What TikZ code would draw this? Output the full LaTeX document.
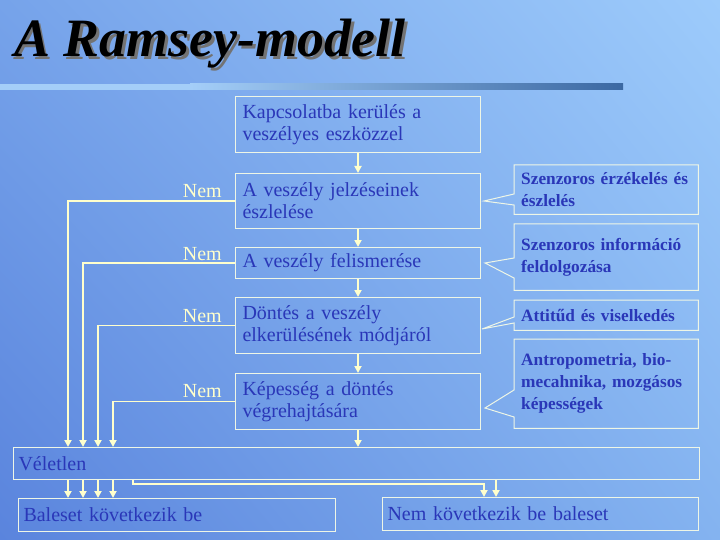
\documentclass[tikz,border=0pt]{standalone}
\usepackage{fontspec}
\setmainfont{Liberation Serif}
\usepackage{xcolor}
\usetikzlibrary{arrows.meta, calc, shadings}
\definecolor{bgdark}{HTML}{5A84DD}
\definecolor{bglight}{HTML}{9DCBFB}
\definecolor{bgtl}{HTML}{76A3EA}
\definecolor{bgbr}{HTML}{84B3F0}
\definecolor{barlight}{HTML}{A4CEF8}
\definecolor{bardark}{HTML}{3B68A2}
\definecolor{boxtext}{HTML}{2A37B8}
\definecolor{wire}{HTML}{FFFFCC}
\definecolor{frame}{HTML}{EEF6E6}

\newcommand{\shadowtitle}[1]{\rlap{\hspace{2.5pt}\raisebox{-2.5pt}{\textcolor{black!55}{#1}}}#1}

\tikzset{
  stage/.style={draw=frame, line width=1pt, anchor=north west, align=left,
    text width=231pt, inner xsep=7pt, inner ysep=2pt, text=boxtext,
    font=\fontsize{20}{22}\selectfont},
  factor/.style={anchor=north west, align=left, text width=170pt,
    inner xsep=7pt, inner ysep=2pt, text=boxtext,
    font=\fontsize{17.3}{22}\selectfont\bfseries},
  outcome/.style={draw=frame, line width=1pt, anchor=north west, align=left,
    inner xsep=5pt, inner ysep=2pt, text=boxtext,
    font=\fontsize{20}{22}\selectfont},
  nemlabel/.style={anchor=base east, text=wire, inner sep=0pt,
    font=\fontsize{20}{22}\selectfont},
  conn/.style={wire, line width=1.8pt, -{Triangle[width=7pt,length=7pt]}},
  callout/.style={frame, line width=1pt, line join=miter}
}

\begin{document}
\begin{tikzpicture}[x=1pt, y=-1pt]
  \useasboundingbox (0,0) rectangle (720,540);
  \shade[lower left=bgdark, upper right=bglight, upper left=bgtl, lower right=bgbr]
    (0,0) rectangle (720,540);

  % title and bar
  \node[anchor=base west, inner sep=0pt,
    font=\fontsize{54}{60}\selectfont\bfseries\itshape] (title) at (14,57)
    {\shadowtitle{A Ramsey-modell}};
  \fill[barlight] (0,84) rectangle (190,90);
  \shade[left color=barlight, right color=bardark] (190,84) rectangle (623,90);

  % main chain
  \node[stage, minimum width=245pt, minimum height=56pt] (b1) at (235,96)
    {Kapcsolatba kerülés a\\veszélyes eszközzel};
  \node[stage, minimum width=245pt, minimum height=55pt] (b2) at (235,173)
    {A veszély jelzéseinek\\észlelése};
  \node[stage, minimum width=245pt, minimum height=31pt] (b3) at (235,247)
    {A veszély felismerése};
  \node[stage, minimum width=245pt, minimum height=56pt] (b4) at (235,297)
    {Döntés a veszély\\elkerülésének módjáról};
  \node[stage, minimum width=245pt, minimum height=56pt] (b5) at (235,373)
    {Képesség a döntés\\végrehajtására};

  % factors
  \node[factor, minimum width=184pt, minimum height=49pt] (f1) at (514,165)
    {Szenzoros érzékelés és\\észlelés};
  \node[factor, minimum width=184pt, minimum height=66pt] (f2) at (514,224)
    {Szenzoros információ\\feldolgozása};
  \node[factor, minimum width=184pt, minimum height=30pt] (f3) at (514,300)
    {Attitűd és viselkedés};
  \node[factor, minimum width=184pt, minimum height=89pt] (f4) at (514,339)
    {Antropometria, bio-\\mecahnika, mozgásos\\képességek};
  \foreach \f/\ya/\yb/\tx/\ty in {f1/29/40/484/201, f2/34/54/485/263,
      f3/17/23/482/329, f4/51/78/485/408}{
    \draw[callout] (\f.north west) -- (\f.north east) -- (\f.south east)
      -- (\f.south west) -- ($(\f.north west)+(0,\yb)$) -- (\tx,\ty)
      -- ($(\f.north west)+(0,\ya)$) -- cycle;
  }

  % bottom
  \node[outcome, text width=676pt, minimum width=686pt, minimum height=32pt] (vel) at (13,447)
    {Véletlen};
  \node[outcome, text width=307pt, minimum width=317pt, minimum height=33pt] (acc) at (18,498)
    {Baleset következik be};
  \node[outcome, text width=306pt, minimum width=316pt, minimum height=33pt] (safe) at (382,497)
    {Nem következik be baleset};

  % Nem labels
  \node[nemlabel] (nem2) at ($(b2.west)+(-13,-4)$) {Nem};
  \node[nemlabel] (nem3) at ($(b3.west)+(-13,-3)$) {Nem};
  \node[nemlabel] (nem4) at ($(b4.west)+(-13,-3)$) {Nem};
  \node[nemlabel] (nem5) at ($(b5.west)+(-13,-4)$) {Nem};

  % connectors
  \coordinate (v1) at (68,447);
  \coordinate (v2) at (83,447);
  \coordinate (v3) at (98,447);
  \coordinate (v4) at (113,447);
  \coordinate (w1) at (133,484);
  \coordinate (w2) at (484,484);
  \coordinate (w3) at (496,484);

  \draw[conn] (b1.south) -- (b2.north);
  \draw[conn] (b2.south) -- (b3.north);
  \draw[conn] (b3.south) -- (b4.north);
  \draw[conn] (b4.south) -- (b5.north);
  \draw[conn] (b5.south) -- (b5.south |- vel.north);

  \draw[conn] (b2.west) -| (v1);
  \draw[conn] (b3.west) -| (v2);
  \draw[conn] (b4.west) -| (v3);
  \draw[conn] (b5.west) -| (v4);

  \foreach \v in {v1, v2, v3, v4}{
    \draw[conn] (vel.south -| \v) -- (acc.north -| \v);
  }
  \draw[conn] (vel.south -| w1) -- (w1) -- (w2) -- (safe.north -| w2);
  \draw[conn] (vel.south -| w3) -- (safe.north -| w3);
\end{tikzpicture}
\end{document}
